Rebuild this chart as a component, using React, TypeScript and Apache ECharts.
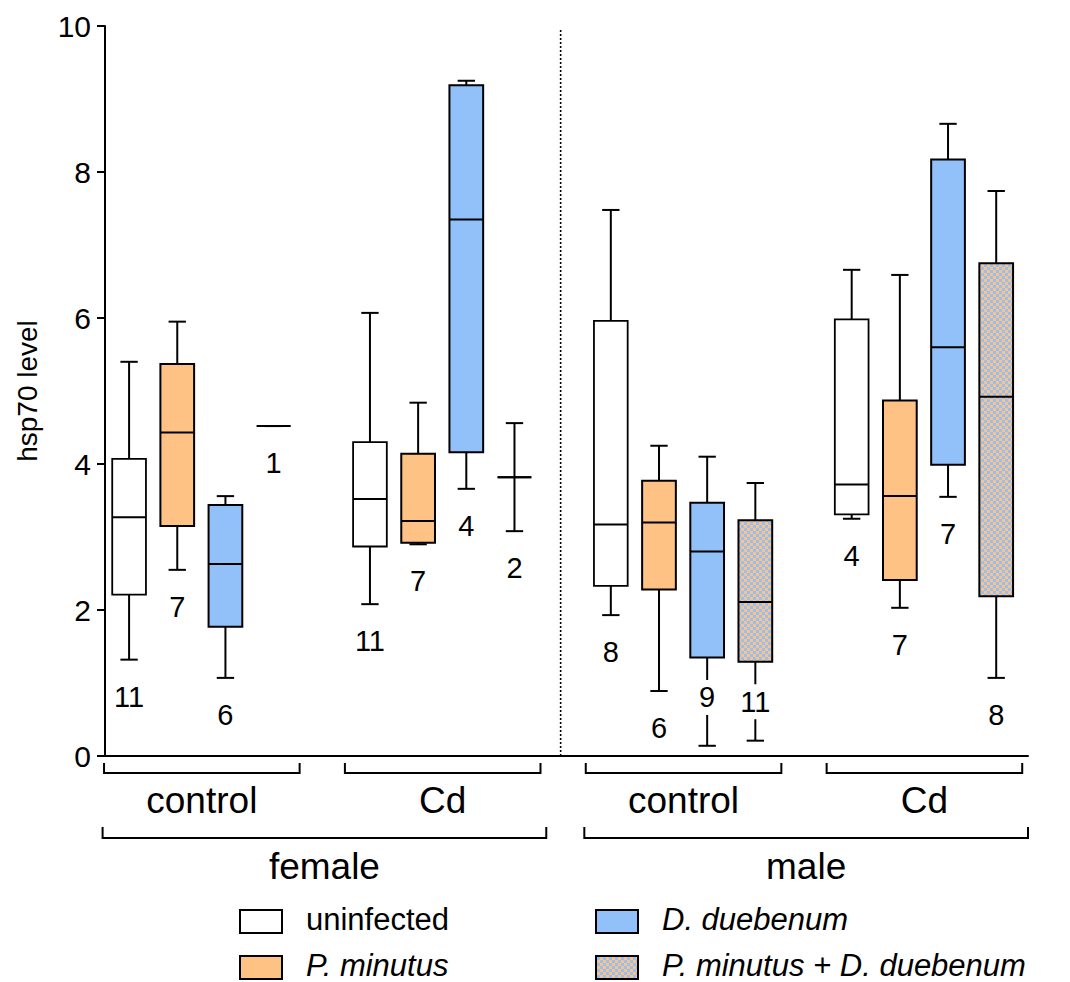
import React, { useEffect, useRef } from 'react';
import * as echarts from 'echarts';

// ---------- data ----------
const seriesNames = ['uninfected', 'P. minutus', 'D. duebenum', 'P. minutus + D. duebenum'];
const groupNames = ['control', 'Cd', 'control', 'Cd'];
const sexNames = ['female', 'male'];
const sexGroupIdx = [[0, 1], [2, 3]];

// [low whisker, Q1, median, Q3, high whisker] for: female control, female Cd, male control, male Cd
const uninfected = [
  [1.32, 2.21, 3.27, 4.07, 5.40],
  [2.08, 2.87, 3.52, 4.30, 6.07],
  [1.93, 2.33, 3.17, 5.96, 7.48],
  [3.25, 3.31, 3.72, 5.98, 6.66],
];
const pMinutus = [
  [2.55, 3.15, 4.43, 5.37, 5.95],
  [2.90, 2.92, 3.22, 4.14, 4.84],
  [0.89, 2.28, 3.20, 3.77, 4.25],
  [2.03, 2.41, 3.56, 4.87, 6.59],
];
const dDuebenum = [
  [1.07, 1.77, 2.63, 3.44, 3.56],
  [3.66, 4.16, 7.35, 9.19, 9.25],
  [0.14, 1.35, 2.80, 3.47, 4.10],
  [3.55, 3.99, 5.60, 8.17, 8.66],
];
const combined = [
  [4.52, 4.52, 4.52, 4.52, 4.52],
  [3.08, 3.82, 3.82, 3.82, 4.56],
  [0.21, 1.29, 2.11, 3.23, 3.74],
  [1.07, 2.19, 4.92, 6.75, 7.74],
];
const nUninfected = [11, 11, 8, 4];
const nPMinutus = [7, 7, 6, 7];
const nDDuebenum = [6, 4, 9, 7];
const nCombined = [1, 2, 11, 8];
// sample-size label drawn across the lower whisker (1) instead of below it (0)
const overUninfected = [0, 0, 0, 0];
const overPMinutus = [0, 0, 0, 0];
const overDDuebenum = [0, 0, 1, 0];
const overCombined = [0, 0, 1, 0];

const yTicks = [0, 2, 4, 6, 8, 10];

// ---------- style ----------
const FONT = '"Liberation Sans", Arial, Helvetica, sans-serif';
const ORANGE = '#FFC285';
const BLUE = '#92C0F8';

function makeChecker(): any {
  const c = document.createElement('canvas');
  c.width = 6;
  c.height = 6;
  const ctx = c.getContext('2d')!;
  ctx.fillStyle = ORANGE;
  ctx.fillRect(0, 0, 6, 6);
  ctx.fillStyle = BLUE;
  ctx.fillRect(0, 0, 3, 3);
  ctx.fillRect(3, 3, 3, 3);
  return { image: c.toDataURL(), repeat: 'repeat', imageWidth: 6, imageHeight: 6 };
}

export default function App() {
  const ref = useRef<HTMLDivElement>(null);
  useEffect(() => {
    if (!ref.current) return;
    const chart = echarts.init(ref.current, null, { renderer: 'svg' });
    const checker = makeChecker();
    const fills: any[] = ['#ffffff', ORANGE, BLUE, checker];
    const allVals = [uninfected, pMinutus, dDuebenum, combined];
    const allN = [nUninfected, nPMinutus, nDDuebenum, nCombined];
    const allOver = [overUninfected, overPMinutus, overDDuebenum, overCombined];

    const boxData: any[] = [];
    for (let s = 0; s < 4; s++) {
      for (let g = 0; g < 4; g++) {
        const v = allVals[s][g];
        boxData.push([g * 5 + s, v[0], v[1], v[2], v[3], v[4], allN[s][g], s, allOver[s][g]]);
      }
    }

    const brackets: any[] = [];
    groupNames.forEach((name, g) => {
      brackets.push({ value: [g * 5, g * 5 + 3, 1], label: name });
    });
    sexNames.forEach((name, i) => {
      const gs = sexGroupIdx[i];
      brackets.push({ value: [gs[0] * 5, gs[gs.length - 1] * 5 + 3, 2], label: name });
    });

    const option: any = {
      animation: false,
      grid: { left: 105, top: 26, right: 42, bottom: 226, containLabel: false },
      xAxis: {
        type: 'value',
        min: -0.5,
        max: 18.66,
        axisLine: { show: true, onZero: false, lineStyle: { color: '#000', width: 2 } },
        axisTick: { show: false },
        axisLabel: { show: false },
        splitLine: { show: false },
      },
      yAxis: {
        type: 'value',
        min: yTicks[0],
        max: yTicks[yTicks.length - 1],
        interval: 2,
        name: 'hsp70 level',
        nameLocation: 'middle',
        nameGap: 64,
        nameTextStyle: { fontSize: 28, color: '#000', fontFamily: FONT },
        axisLine: { show: true, onZero: false, lineStyle: { color: '#000', width: 2 } },
        axisTick: { show: true, length: 8, lineStyle: { color: '#000', width: 2 } },
        axisLabel: { fontSize: 30, color: '#000', fontFamily: FONT, margin: 14 },
        splitLine: { show: false },
      },
      series: [
        {
          type: 'custom',
          name: 'divider',
          clip: false,
          data: [[9, 0, 9.95]],
          renderItem: (params: any, api: any) => {
            const p1 = api.coord([api.value(0), api.value(1)]);
            const p2 = api.coord([api.value(0), api.value(2)]);
            return {
              type: 'line',
              shape: { x1: p1[0] - 2, y1: p1[1], x2: p2[0] - 2, y2: p2[1] },
              style: { stroke: '#000', lineWidth: 1.6, lineDash: [2, 2] },
            };
          },
        },
        {
          type: 'custom',
          name: 'boxes',
          clip: false,
          data: boxData,
          renderItem: (params: any, api: any) => {
            const pos = api.value(0);
            const [low, q1, med, q3, high] = [1, 2, 3, 4, 5].map((i) => api.coord([pos, api.value(i)])[1]);
            const cx = api.coord([pos, 0])[0];
            const slot = api.size([1, 0])[0];
            const bw = slot * 0.7;
            const cw = slot * 0.36;
            const n = api.value(6);
            const s = api.value(7);
            const over = api.value(8);
            const lw = s === 0 ? 1.8 : 2;
            const ls = { stroke: '#000', lineWidth: 2 };
            const labelY = over ? q1 + 40 : low + 37;
            const children: any[] = [
              { type: 'line', shape: { x1: cx, y1: high, x2: cx, y2: q3 }, style: ls },
              { type: 'line', shape: { x1: cx, y1: q1, x2: cx, y2: low }, style: ls },
              { type: 'line', shape: { x1: cx - cw / 2, y1: high, x2: cx + cw / 2, y2: high }, style: ls },
              { type: 'line', shape: { x1: cx - cw / 2, y1: low, x2: cx + cw / 2, y2: low }, style: ls },
              {
                type: 'rect',
                shape: { x: cx - bw / 2, y: q3, width: bw, height: q1 - q3 },
                style: { fill: fills[s], stroke: '#000', lineWidth: lw },
              },
              { type: 'line', shape: { x1: cx - bw / 2, y1: med, x2: cx + bw / 2, y2: med }, style: ls },
              {
                type: 'text',
                style: {
                  text: String(n),
                  x: cx,
                  y: labelY,
                  align: 'center',
                  verticalAlign: 'middle',
                  textAlign: 'center',
                  textVerticalAlign: 'middle',
                  font: `29px ${FONT}`,
                  fill: '#000',
                  backgroundColor: over ? '#ffffff' : 'transparent',
                  padding: [3, 2],
                },
              },
            ];
            return { type: 'group', children };
          },
        },
        {
          type: 'custom',
          name: 'brackets',
          clip: false,
          data: brackets,
          renderItem: (params: any, api: any) => {
            const first = api.value(0);
            const last = api.value(1);
            const level = api.value(2);
            const label = brackets[params.dataIndex].label;
            const y0 = api.coord([0, 0])[1];
            const x1 = api.coord([first - (level === 1 ? 0.52 : 0.55), 0])[0];
            const x2 = api.coord([last + (level === 1 ? 0.54 : 0.66), 0])[0];
            const top = y0 + (level === 1 ? 7 : 71);
            const bot = y0 + (level === 1 ? 17 : 82);
            const ty = y0 + (level === 1 ? 44 : 110);
            return {
              type: 'group',
              children: [
                {
                  type: 'polyline',
                  shape: { points: [[x1, top], [x1, bot], [x2, bot], [x2, top]] },
                  style: { stroke: '#000', lineWidth: 2, fill: 'none' },
                },
                {
                  type: 'text',
                  style: {
                    text: label,
                    x: (x1 + x2) / 2,
                    y: ty,
                    align: 'center',
                    verticalAlign: 'middle',
                    textAlign: 'center',
                    textVerticalAlign: 'middle',
                    font: `37px ${FONT}`,
                    fill: '#000',
                  },
                },
              ],
            };
          },
        },
      ],
      graphic: seriesNames.map((name, i) => {
        const col = i === 0 || i === 1 ? 0 : 1;
        const row = i === 0 || i === 2 ? 0 : 1;
        const bx = col === 0 ? 240 : 596;
        const by = row === 0 ? 910 : 956;
        return {
          type: 'group',
          children: [
            {
              type: 'rect',
              shape: { x: bx, y: by, width: 42, height: 23 },
              style: { fill: fills[i], stroke: '#000', lineWidth: 2 },
            },
            {
              type: 'text',
              style: {
                text: name,
                x: bx + 66,
                y: by + 9,
                align: 'left',
                verticalAlign: 'middle',
                textAlign: 'left',
                textVerticalAlign: 'middle',
                font: `${i === 0 ? 'normal' : 'italic'} 31px ${FONT}`,
                fill: '#000',
              },
            },
          ],
        };
      }),
    };
    chart.setOption(option);
    return () => chart.dispose();
  }, []);
  return (
    <div
      ref={ref}
      style={{ position: 'fixed', left: 0, top: 0, width: 1070, height: 982, background: '#fff' }}
    />
  );
}
